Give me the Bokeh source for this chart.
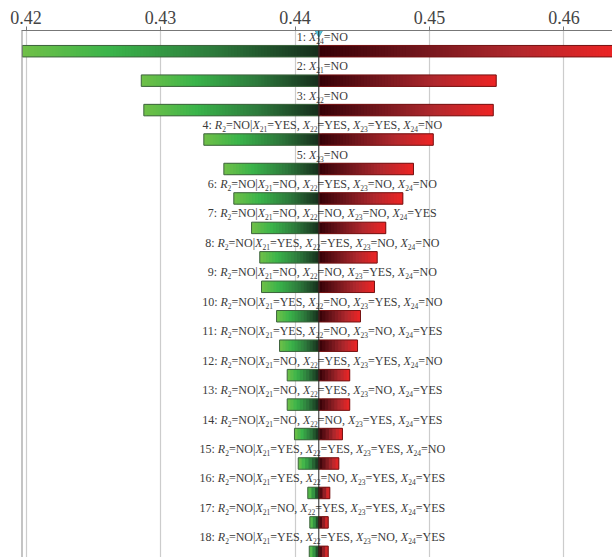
import re
from bokeh.plotting import figure
from bokeh.models import Range1d, Span, ColumnDataSource, FixedTicker, NumeralTickFormatter
from bokeh.embed import file_html
from bokeh.resources import INLINE
from bokeh.core.properties import value

# ---------------- data ----------------
labels = [
    "1: X24=NO",
    "2: X21=NO",
    "3: X22=NO",
    "4: R2=NO|X21=YES, X22=YES, X23=YES, X24=NO",
    "5: X23=NO",
    "6: R2=NO|X21=NO, X22=YES, X23=NO, X24=NO",
    "7: R2=NO|X21=NO, X22=NO, X23=NO, X24=YES",
    "8: R2=NO|X21=YES, X22=YES, X23=NO, X24=NO",
    "9: R2=NO|X21=NO, X22=NO, X23=YES, X24=NO",
    "10: R2=NO|X21=YES, X22=NO, X23=YES, X24=NO",
    "11: R2=NO|X21=YES, X22=NO, X23=NO, X24=YES",
    "12: R2=NO|X21=NO, X22=YES, X23=YES, X24=NO",
    "13: R2=NO|X21=NO, X22=YES, X23=NO, X24=YES",
    "14: R2=NO|X21=NO, X22=NO, X23=YES, X24=YES",
    "15: R2=NO|X21=YES, X22=YES, X23=YES, X24=NO",
    "16: R2=NO|X21=YES, X22=NO, X23=YES, X24=YES",
    "17: R2=NO|X21=NO, X22=YES, X23=YES, X24=YES",
    "18: R2=NO|X21=YES, X22=YES, X23=NO, X24=YES",
]
low_values = [0.41972, 0.42857, 0.42876, 0.43322, 0.43471, 0.43545, 0.43677, 0.43738,
              0.43751, 0.43863, 0.43885, 0.43942, 0.43942, 0.43996, 0.44024, 0.44095,
              0.44110, 0.44106]
high_values = [0.46390, 0.45496, 0.45474, 0.45028, 0.44881, 0.44802, 0.44675, 0.44611,
               0.44591, 0.44487, 0.44465, 0.44407, 0.44407, 0.44353, 0.44326, 0.44259,
               0.44247, 0.44247]
base_value = 0.44177
tick_values = [0.42, 0.43, 0.44, 0.45, 0.46]

# ---------------- style helpers ----------------
GREEN_STOPS = [(0.0, (112, 192, 72)), (0.3, (58, 180, 74)), (0.65, (45, 122, 60)), (1.0, (22, 46, 28))]
RED_STOPS = [(0.0, (52, 0, 6)), (0.33, (112, 22, 28)), (0.66, (176, 40, 45)), (1.0, (238, 36, 36))]


def interp(stops, t):
    for (t0, c0), (t1, c1) in zip(stops[:-1], stops[1:]):
        if t <= t1:
            f = (t - t0) / (t1 - t0) if t1 > t0 else 0
            return "#%02x%02x%02x" % tuple(int(round(a + (b - a) * f)) for a, b in zip(c0, c1))
    return "#%02x%02x%02x" % stops[-1][1]


PX_PER_ROW = 29.45
HALF_H = 0.195
FRAME_TOP = 30

x0, x1 = 0.419665, 0.463606
PX_PER_UNIT = 591 / (x1 - x0)
top_val = 1 - (50.7 - FRAME_TOP) / PX_PER_ROW
bot_val = top_val + (557 - FRAME_TOP) / PX_PER_ROW

p = figure(width=612, height=557, x_range=Range1d(x0, x1), y_range=Range1d(bot_val, top_val),
           x_axis_location="above", y_axis_location=None, toolbar_location=None,
           output_backend="svg", min_border_left=21, min_border_right=0,
           min_border_bottom=0, min_border_top=FRAME_TOP)
p.outline_line_color = None
p.ygrid.grid_line_color = None
p.xgrid.grid_line_color = "#cccccc"
p.xgrid.grid_line_width = 1.2

ax = p.xaxis[0]
ax.ticker = FixedTicker(ticks=tick_values)
ax.formatter = NumeralTickFormatter(format="0.00")
ax.major_label_text_font = "Liberation Serif"
ax.major_label_text_font_size = "18px"
ax.major_label_text_color = "#444444"
ax.major_label_standoff = 3
ax.major_tick_out = 4
ax.major_tick_in = 0
ax.minor_tick_out = 0
ax.minor_tick_in = 0
ax.axis_line_color = "#777777"
ax.major_tick_line_color = "#777777"

# gradient segments (each about 3 px wide, overlapping the next one to hide seams)
seg = dict(left=[], right=[], top=[], bottom=[], color=[])
for i, (lo, hi) in enumerate(zip(low_values, high_values)):
    row = i + 1
    for start, end, stops in ((lo, base_value, GREEN_STOPS), (base_value, hi, RED_STOPS)):
        n = max(3, int(abs(end - start) * PX_PER_UNIT / 3))
        step = (end - start) / n
        for j in range(n):
            a = start + step * j
            b = min(end, start + step * (j + 2))
            seg["left"].append(a); seg["right"].append(b)
            seg["top"].append(row - HALF_H); seg["bottom"].append(row + HALF_H)
            seg["color"].append(interp(stops, (j + 0.5) / n))
p.quad(left="left", right="right", top="top", bottom="bottom", fill_color="color",
       line_color=None, source=ColumnDataSource(seg))

rows = list(range(1, len(labels) + 1))
p.quad(left=low_values, right=[base_value] * len(rows), top=[r - HALF_H for r in rows],
       bottom=[r + HALF_H for r in rows], fill_color=None, line_color="#3d633d", line_width=1)
p.quad(left=[base_value] * len(rows), right=high_values, top=[r - HALF_H for r in rows],
       bottom=[r + HALF_H for r in rows], fill_color=None, line_color="#761313", line_width=1)

# labels with italic letters and subscripts
W = {' ': 250, ':': 278, '=': 564, '|': 200, ',': 250, 'N': 722, 'O': 722, 'Y': 722,
     'E': 611, 'S': 556, 'X': 722, 'R': 667}
for d in "0123456789":
    W[d] = 500
WI = {'X': 611, 'R': 611}
FS, SFS = 12, 7.5


def parts_of(s):
    parts, pos = [], 0
    for m in re.finditer(r'([XR])(\d+)', s):
        if m.start() > pos:
            parts.append((s[pos:m.start()], 'n'))
        parts.append((m.group(1), 'i'))
        parts.append((m.group(2), 's'))
        pos = m.end()
    if pos < len(s):
        parts.append((s[pos:], 'n'))
    return parts


def width(t, k):
    if k == 'n':
        return sum(W[c] for c in t) * FS / 1000
    if k == 'i':
        return sum(WI[c] for c in t) * FS / 1000
    return sum(W[c] for c in t) * SFS / 1000


srcs = {k: dict(x=[], y=[], xo=[], text=[]) for k in "nis"}
BASE_UP = 14.5 / PX_PER_ROW
SUB_DOWN = 4 / PX_PER_ROW
for i, s in enumerate(labels):
    row = i + 1
    pts = parts_of(s)
    total = sum(width(t, k) for t, k in pts)
    off = -total / 2 + 3.5
    for t, k in pts:
        d = srcs[k]
        d["x"].append(base_value)
        d["y"].append(row - BASE_UP + (SUB_DOWN if k == 's' else 0))
        d["xo"].append(off)
        d["text"].append(t)
        off += width(t, k)

for k, d in srcs.items():
    p.text(x="x", y="y", text="text", x_offset="xo", source=ColumnDataSource(d),
           text_font=value("Liberation Serif"),
           text_font_size=value("%gpx" % (SFS if k == 's' else FS)),
           text_font_style=value("italic" if k == 'i' else "normal"),
           text_color="#3a3a3a", text_align="left", text_baseline="alphabetic")

p.add_layout(Span(location=x0, dimension="height", line_color="#8a8a8a", line_width=2))
p.add_layout(Span(location=base_value, dimension="height", line_color="#222222", line_width=1))
p.scatter(x=[base_value], y=[top_val + 1.5 / PX_PER_ROW], marker="inverted_triangle", size=9,
          fill_color="#56c1d8", line_color="#3b9fb8", line_width=0.8)

open("out.html", "w").write(file_html(p, INLINE))
